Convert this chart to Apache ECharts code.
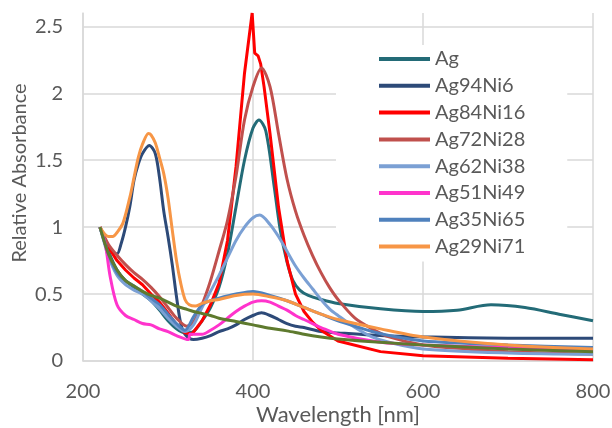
<!DOCTYPE html>
<html>
<head>
<meta charset="utf-8">
<script src="https://cdn.jsdelivr.net/npm/echarts@6/dist/echarts.min.js"></script>
<style>
  html, body { margin: 0; padding: 0; background: #fff; }
  #chart { width: 612px; height: 428px; }
</style>
</head>
<body>
<div id="chart"></div>
<script>
// spectra: [wavelength nm, relative absorbance]
const ag = [[220,1.0],[230,0.82],[240,0.68],[250,0.6],[260,0.55],[270,0.5],[280,0.45],[290,0.38],[300,0.3],[310,0.24],[320,0.21],[330,0.22],[340,0.3],[350,0.4],[360,0.55],[370,0.8],[380,1.15],[390,1.5],[400,1.74],[407,1.8],[415,1.72],[425,1.3],[432,0.98],[440,0.74],[447,0.6],[455,0.53],[465,0.49],[480,0.46],[500,0.43],[550,0.39],[600,0.37],[640,0.38],[680,0.42],[720,0.4],[760,0.35],[800,0.3]]
const ag94ni6 = [[220,1.0],[230,0.85],[240,0.8],[245,0.88],[250,1.0],[255,1.15],[260,1.35],[265,1.47],[270,1.55],[278,1.61],[285,1.55],[290,1.37],[295,1.12],[300,0.93],[305,0.72],[310,0.48],[315,0.28],[320,0.2],[330,0.16],[340,0.17],[350,0.19],[360,0.22],[370,0.24],[380,0.27],[390,0.31],[400,0.34],[410,0.36],[420,0.34],[430,0.31],[440,0.28],[450,0.26],[460,0.25],[480,0.22],[500,0.21],[550,0.19],[600,0.18],[700,0.17],[800,0.17]]
const ag84ni16 = [[220,1.0],[230,0.85],[240,0.75],[250,0.68],[260,0.62],[270,0.57],[280,0.5],[290,0.44],[300,0.36],[310,0.27],[320,0.21],[328,0.2],[340,0.3],[350,0.42],[360,0.58],[370,0.9],[380,1.45],[390,2.15],[399,2.6],[402,2.3],[406,2.28],[409,2.22],[413,2.05],[420,1.7],[430,1.15],[440,0.75],[450,0.5],[460,0.37],[470,0.29],[480,0.23],[500,0.15],[550,0.07],[600,0.04],[700,0.02],[800,0.01]]
const ag72ni28 = [[220,1.0],[230,0.87],[240,0.79],[250,0.72],[260,0.66],[270,0.61],[280,0.55],[290,0.48],[300,0.4],[310,0.32],[322,0.26],[330,0.29],[340,0.42],[350,0.6],[360,0.82],[370,1.05],[380,1.38],[390,1.8],[400,2.05],[410,2.19],[420,2.05],[430,1.7],[440,1.36],[450,1.12],[460,0.94],[470,0.79],[480,0.66],[490,0.55],[500,0.46],[520,0.32],[540,0.24],[560,0.18],[600,0.12],[650,0.09],[700,0.07],[800,0.05]]
const ag62ni38 = [[220,1.0],[230,0.78],[240,0.64],[250,0.57],[260,0.53],[270,0.5],[280,0.45],[290,0.39],[300,0.32],[310,0.26],[320,0.22],[330,0.27],[340,0.4],[350,0.52],[360,0.64],[370,0.77],[380,0.9],[390,1.0],[400,1.07],[408,1.09],[420,1.02],[430,0.93],[440,0.82],[450,0.71],[460,0.62],[470,0.54],[480,0.46],[490,0.39],[500,0.34],[520,0.25],[540,0.18],[560,0.14],[600,0.09],[700,0.06],[800,0.05]]
const ag51ni49 = [[220,1.0],[226,0.88],[232,0.63],[240,0.42],[250,0.34],[260,0.31],[270,0.28],[280,0.27],[290,0.24],[300,0.22],[310,0.19],[324,0.16],[326,0.2],[340,0.2],[350,0.23],[360,0.27],[370,0.32],[380,0.37],[390,0.41],[400,0.44],[410,0.45],[420,0.44],[430,0.41],[440,0.38],[450,0.34],[460,0.31],[470,0.28],[480,0.25],[500,0.2],[550,0.14],[600,0.12],[700,0.1],[800,0.08]]
const ag35ni65 = [[220,1.0],[230,0.8],[240,0.66],[250,0.6],[260,0.56],[270,0.52],[280,0.47],[290,0.42],[300,0.35],[310,0.28],[320,0.23],[330,0.33],[340,0.42],[350,0.45],[360,0.47],[380,0.5],[400,0.52],[420,0.49],[440,0.45],[460,0.4],[480,0.35],[500,0.3],[520,0.26],[540,0.22],[560,0.19],[600,0.15],[700,0.12],[800,0.1]]
const ag29ni71 = [[220,1.0],[230,0.93],[235,0.93],[240,0.96],[247,1.03],[255,1.22],[260,1.37],[265,1.52],[270,1.62],[277,1.7],[280,1.69],[285,1.63],[290,1.52],[295,1.4],[300,1.22],[305,0.98],[310,0.75],[315,0.58],[320,0.46],[325,0.42],[332,0.41],[340,0.43],[350,0.45],[360,0.46],[380,0.49],[400,0.5],[420,0.48],[440,0.45],[460,0.4],[480,0.35],[500,0.31],[550,0.24],[600,0.18],[700,0.12],[800,0.09]]
// unlabelled olive trace (not in the legend)
const ni = [[220,1.0],[230,0.8],[240,0.68],[250,0.6],[260,0.56],[270,0.52],[280,0.49],[290,0.47],[300,0.44],[310,0.41],[320,0.39],[330,0.37],[340,0.355],[350,0.34],[360,0.32],[380,0.295],[400,0.27],[420,0.245],[440,0.225],[460,0.2],[480,0.18],[500,0.165],[550,0.14],[600,0.12],[700,0.09],[800,0.07]]

const names = ['Ag', 'Ag94Ni6', 'Ag84Ni16', 'Ag72Ni28', 'Ag62Ni38', 'Ag51Ni49', 'Ag35Ni65', 'Ag29Ni71']
const colors = ['#236B77', '#2D4A78', '#FF0000', '#C0504D', '#7BA0D4', '#FF33CC', '#4F81BD', '#F79646']
const spectra = [ag, ag94ni6, ag84ni16, ag72ni28, ag62ni38, ag51ni49, ag35ni65, ag29ni71]

const txt = '#595959'
const font = 'Lato'

const series = spectra.map((d, i) => ({
  name: names[i],
  type: 'line',
  data: d,
  symbol: 'none',
  smooth: i === 2 ? false : 0.3,
  lineStyle: { width: 3, color: colors[i] },
  itemStyle: { color: colors[i] }
}))
series.push({
  name: 'Ni',
  type: 'line',
  data: ni,
  symbol: 'none',
  smooth: 0.3,
  lineStyle: { width: 3, color: '#5E7A2E' },
  itemStyle: { color: '#5E7A2E' }
})

const chart = echarts.init(document.getElementById('chart'))
chart.setOption({
  animation: false,
  backgroundColor: '#fff',
  grid: { left: 83, right: 19, top: 13, bottom: 67, outerBoundsMode: 'none' },
  legend: {
    data: names,
    orient: 'vertical',
    left: 336,
    top: 45,
    padding: [4, 42, 5, 43],
    backgroundColor: '#fff',
    icon: 'rect',
    itemWidth: 51,
    itemHeight: 4,
    itemGap: 6.8,
    textStyle: { color: txt, fontSize: 20, fontFamily: font, lineHeight: 20 }
  },
  xAxis: {
    type: 'value',
    min: 200,
    max: 800,
    interval: 200,
    name: 'Wavelength [nm]',
    nameLocation: 'middle',
    nameGap: 43,
    nameMoveOverlap: false,
    nameTextStyle: { color: txt, fontSize: 22, fontFamily: font },
    axisLine: { show: true, lineStyle: { color: '#D9D9D9', width: 1.5 } },
    axisTick: { show: false },
    axisLabel: { color: txt, fontSize: 20, fontFamily: font, margin: 21 },
    splitLine: { show: true, lineStyle: { color: '#D9D9D9', width: 1.5 } }
  },
  yAxis: {
    type: 'value',
    min: 0,
    max: 2.6,
    interval: 0.5,
    name: 'Relative Absorbance',
    nameLocation: 'middle',
    nameGap: 53,
    nameMoveOverlap: false,
    nameTextStyle: { color: txt, fontSize: 20, fontFamily: font, padding: [0, 0, 0, 28] },
    axisLine: { show: true, lineStyle: { color: '#D9D9D9', width: 1.5 } },
    axisTick: { show: false },
    axisLabel: { color: txt, fontSize: 20, fontFamily: font, margin: 20, showMaxLabel: false },
    splitLine: { show: true, showMaxLine: false, lineStyle: { color: '#D9D9D9', width: 1.5 } }
  },
  series: series
})
</script>
</body>
</html>
